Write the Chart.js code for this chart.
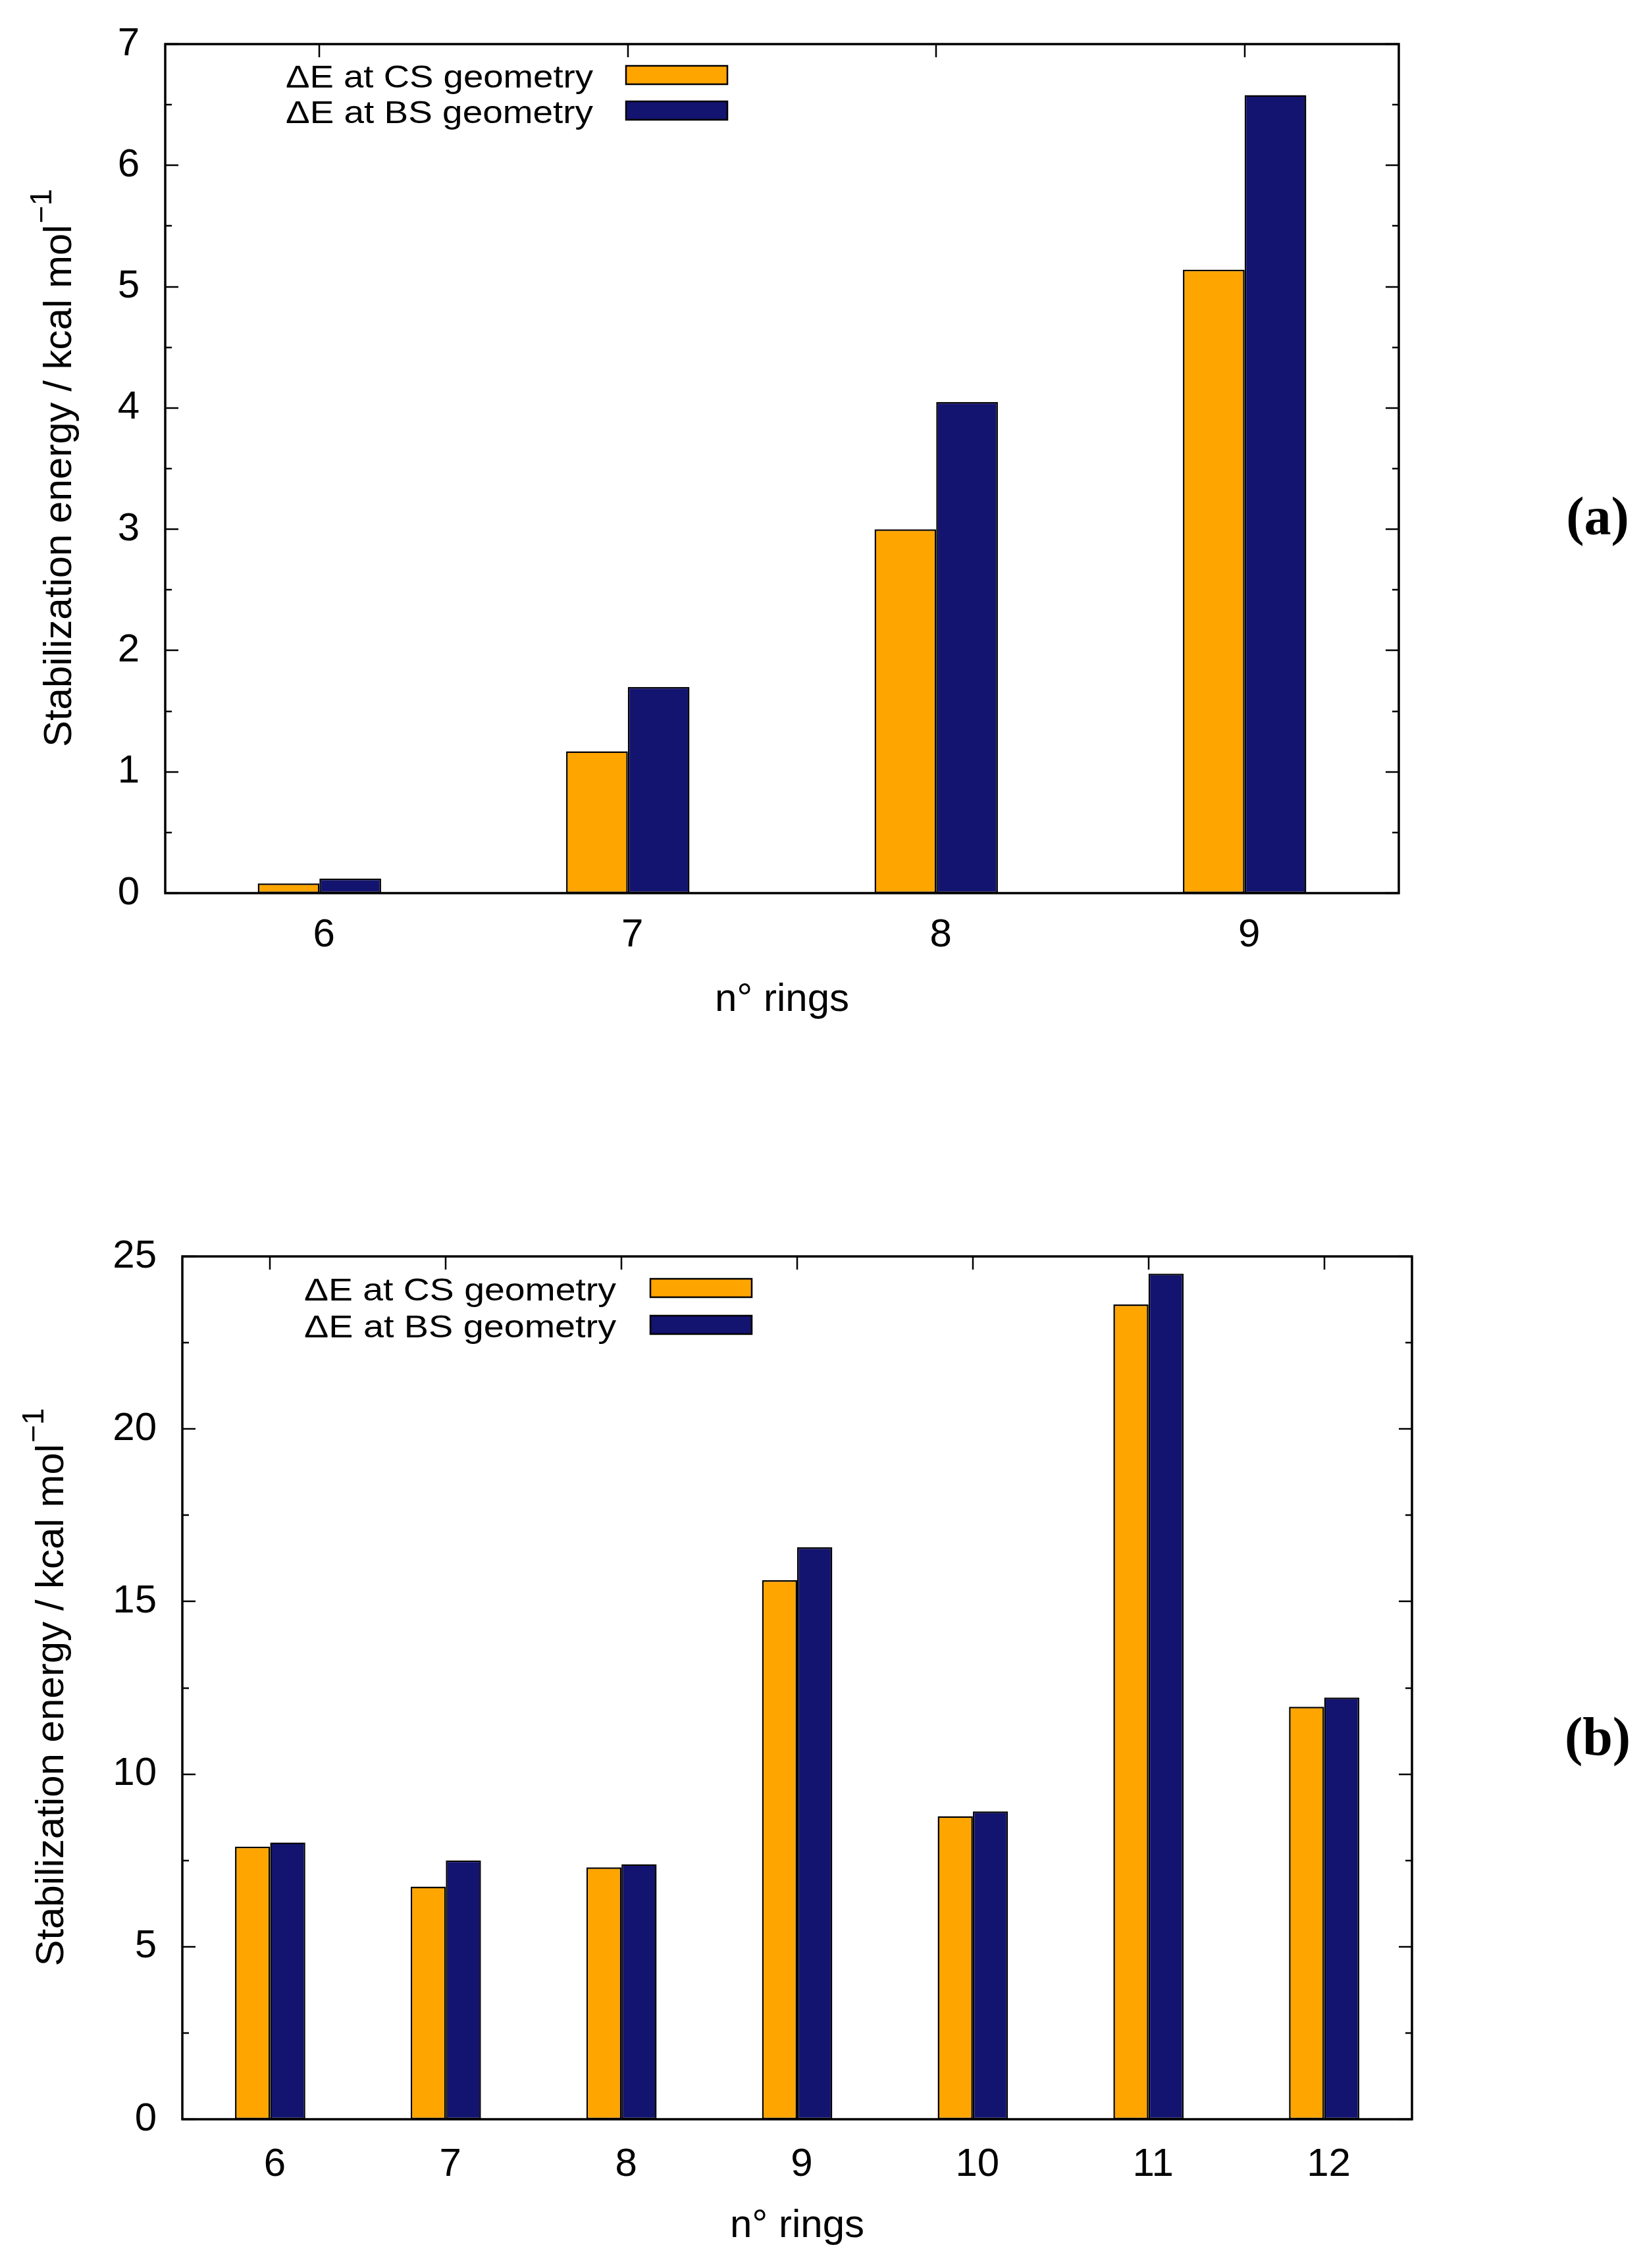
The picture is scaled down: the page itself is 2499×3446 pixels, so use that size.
<!DOCTYPE html>
<html lang="en">
<head>
  <meta charset="UTF-8">
  <title>Stabilization energy vs number of rings</title>
  <script src="https://cdn.jsdelivr.net/npm/chart.js"></script>
  <style>
    html, body {
      margin: 0;
      padding: 0;
      background: #fff;
    }
    .panel {
      position: absolute;
      left: 0;
      width: 2499px;
    }
    #panelA { top: 0; height: 1720px; }
    #panelB { top: 1720px; height: 1726px; }
  </style>
</head>
<body>
  <div class="panel" id="panelA"><canvas id="chartA"></canvas></div>
  <div class="panel" id="panelB"><canvas id="chartB"></canvas></div>

<script>
  // data
  const seriesLabels = ['ΔE at CS geometry', 'ΔE at BS geometry'];

  const ringsA = ['6', '7', '8', '9'];
  const csA = [0.08, 1.17, 3.00, 5.14];
  const bsA = [0.12, 1.70, 4.05, 6.58];

  const ringsB = ['6', '7', '8', '9', '10', '11', '12'];
  const csB = [7.90, 6.74, 7.30, 15.62, 8.78, 23.61, 11.95];
  const bsB = [8.02, 7.50, 7.39, 16.57, 8.92, 24.50, 12.22];

  const yTitle = 'Stabilization energy / kcal mol';
  const yTitleSup = '−1';
  const xTitle = 'n° rings';

  const ORANGE = '#ffa500';
  const NAVY = '#131370';
  const SANS = '"Liberation Sans", Arial, Helvetica, sans-serif';

  // gnuplot-ish frame, inward ticks, legend, y title and panel tag
  const gnuplotLook = {
    id: 'gnuplotLook',
    afterDraw(chart, args, o) {
      const { ctx, chartArea: a } = chart;
      const xs = chart.scales.x, ys = chart.scales.y;
      ctx.save();

      // ticks
      ctx.strokeStyle = '#000';
      ctx.lineWidth = 2.5;
      ctx.beginPath();
      const n = Math.round((ys.max - ys.min) / o.minorStep);
      for (let k = 0; k <= n; k++) {
        const v = ys.min + k * o.minorStep;
        const py = Math.round(ys.getPixelForValue(v));
        const len = k % 2 === 0 ? 20 : 10;
        ctx.moveTo(a.left, py); ctx.lineTo(a.left + len, py);
        ctx.moveTo(a.right, py); ctx.lineTo(a.right - len, py);
      }
      xs.ticks.forEach((t, i) => {
        const px = Math.round(xs.getPixelForTick(i));
        ctx.moveTo(px, a.top); ctx.lineTo(px, a.top + 20);
      });
      ctx.stroke();

      // frame
      ctx.lineWidth = 3.5;
      ctx.strokeRect(a.left, a.top, a.right - a.left, a.bottom - a.top);

      // legend: text on the left, swatch on the right
      chart.data.datasets.forEach((ds, i) => {
        const base = a.top + o.legendTop + i * o.legendGap;
        ctx.font = '48px ' + SANS;
        ctx.textAlign = 'right';
        ctx.textBaseline = 'alphabetic';
        ctx.fillStyle = '#000';
        const w = ctx.measureText(ds.label).width;
        ctx.save();
        ctx.translate(a.left + o.legendTextRight, base);
        ctx.scale(o.legendTextWidth / w, 1);
        ctx.fillText(ds.label, 0, 0);
        ctx.restore();
        const bx = a.left + o.legendBoxLeft, by = base - 33;
        ctx.fillStyle = ds.backgroundColor;
        ctx.fillRect(bx, by, 154, 28);
        ctx.lineWidth = 2.5;
        ctx.strokeRect(bx, by, 154, 28);
      });

      // y title with superscript
      ctx.save();
      ctx.translate(o.yTitleX, (a.top + a.bottom) / 2);
      ctx.rotate(-Math.PI / 2);
      ctx.fillStyle = '#000';
      ctx.textAlign = 'left';
      ctx.textBaseline = 'alphabetic';
      ctx.font = '60px ' + SANS;
      const mainW = ctx.measureText(yTitle).width;
      ctx.font = '46px ' + SANS;
      const supW = ctx.measureText(yTitleSup).width;
      const start = -(mainW + supW) / 2;
      ctx.font = '60px ' + SANS;
      ctx.fillText(yTitle, start, 0);
      ctx.font = '46px ' + SANS;
      ctx.fillText(yTitleSup, start + mainW + 2, -30);
      ctx.restore();

      // panel tag
      ctx.fillStyle = '#000';
      ctx.textAlign = 'center';
      ctx.textBaseline = 'alphabetic';
      ctx.font = 'bold 82px "Liberation Serif", "Times New Roman", serif';
      ctx.fillText(o.tag, o.tagX, o.tagY);

      ctx.restore();
    }
  };

  function makeChart(id, labels, cs, bs, cfg) {
    const tickFont = { family: SANS, size: 60 };
    return new Chart(document.getElementById(id), {
      type: 'bar',
      data: {
        labels: labels,
        datasets: [
          { label: seriesLabels[0], data: cs, backgroundColor: ORANGE },
          { label: seriesLabels[1], data: bs, backgroundColor: NAVY }
        ]
      },
      options: {
        responsive: true,
        maintainAspectRatio: false,
        animation: false,
        layout: { padding: cfg.padding },
        datasets: {
          bar: {
            categoryPercentage: 0.4,
            barPercentage: 1.0,
            borderColor: '#000',
            borderWidth: 2.5,
            borderSkipped: false
          }
        },
        plugins: {
          legend: { display: false },
          tooltip: { enabled: false },
          gnuplotLook: cfg.look
        },
        scales: {
          x: {
            type: 'category',
            offset: true,
            grid: { display: false, drawTicks: false },
            border: { display: false },
            ticks: { font: tickFont, color: '#000', padding: cfg.xPad, labelOffset: 7, maxRotation: 0 },
            title: {
              display: true,
              text: xTitle,
              font: { family: SANS, size: 60 },
              color: '#000',
              padding: { top: 0, bottom: 2 }
            },
            afterFit: s => { s.height = 200; }
          },
          y: {
            min: 0,
            max: cfg.yMax,
            ticks: { stepSize: cfg.yStep, font: tickFont, color: '#000', padding: 39 },
            grid: { display: false, drawTicks: false },
            border: { display: false },
            afterFit: s => {
              s.width = cfg.yWidth;
              s.paddingTop = 0;
              s.paddingBottom = 0;
            }
          }
        }
      },
      plugins: [gnuplotLook]
    });
  }

  makeChart('chartA', ringsA, csA, bsA, {
    padding: { left: 0, top: 67, right: 374, bottom: 163 },
    yWidth: 251,
    yMax: 7,
    yStep: 1,
    xPad: 28,
    look: {
      minorStep: 0.5,
      legendTop: 66, legendGap: 54,
      legendTextRight: 650, legendTextWidth: 467, legendBoxLeft: 700,
      yTitleX: 108,
      tag: '(a)', tagX: 2427, tagY: 812
    }
  });

  makeChart('chartB', ringsB, csB, bsB, {
    padding: { left: 0, top: 189, right: 354, bottom: 26 },
    yWidth: 277,
    yMax: 25,
    yStep: 5,
    xPad: 33,
    look: {
      minorStep: 2.5,
      legendTop: 67, legendGap: 56,
      legendTextRight: 659, legendTextWidth: 474, legendBoxLeft: 711,
      yTitleX: 96,
      tag: '(b)', tagX: 2427, tagY: 946
    }
  });
</script>
</body>
</html>
